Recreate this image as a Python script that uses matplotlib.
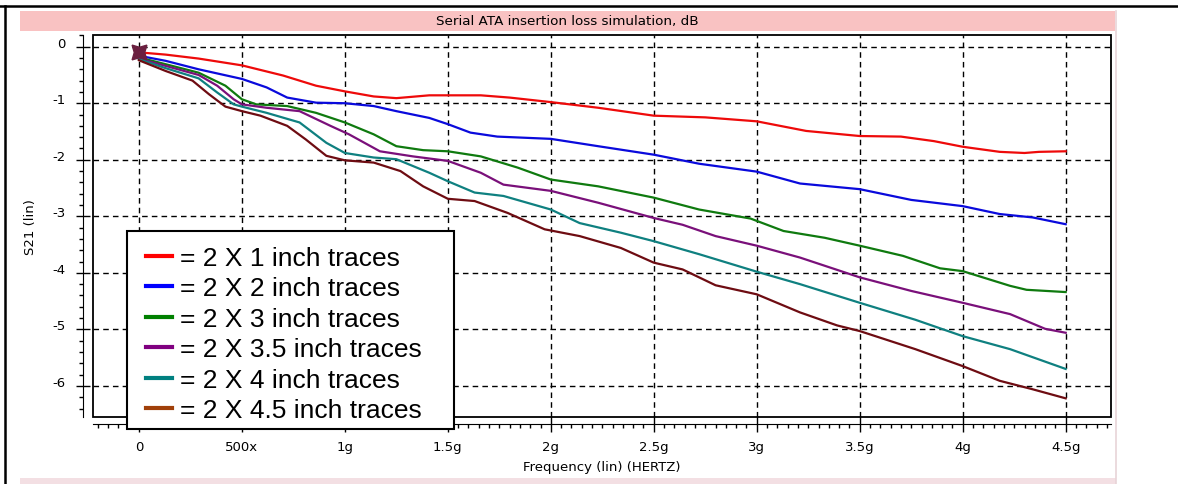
import matplotlib.pyplot as plt
from matplotlib.patches import Rectangle
from matplotlib.lines import Line2D
from matplotlib.ticker import MultipleLocator

# values (frequency in GHz, S21 in dB)
freq_1in = [0, 0.13, 0.29, 0.5, 0.7, 0.86, 1.0, 1.14, 1.25, 1.41, 1.66, 1.8, 2.0, 2.23, 2.5,
            2.75, 3.0, 3.24, 3.5, 3.7, 3.86, 4.0, 4.18, 4.3, 4.37, 4.5]
s21_1in = [-0.10, -0.14, -0.21, -0.33, -0.51, -0.69, -0.79, -0.88, -0.91, -0.86, -0.86, -0.90,
           -0.98, -1.08, -1.22, -1.25, -1.32, -1.49, -1.58, -1.59, -1.67, -1.77, -1.86, -1.88,
           -1.86, -1.85]

freq_2in = [0, 0.13, 0.29, 0.5, 0.62, 0.72, 0.86, 1.0, 1.14, 1.25, 1.41, 1.5, 1.61, 1.74, 2.0,
            2.23, 2.5, 2.72, 3.0, 3.21, 3.5, 3.75, 4.0, 4.18, 4.34, 4.5]
s21_2in = [-0.16, -0.25, -0.40, -0.57, -0.72, -0.90, -0.99, -1.0, -1.05, -1.14, -1.26, -1.37,
           -1.52, -1.59, -1.63, -1.76, -1.91, -2.07, -2.21, -2.42, -2.52, -2.71, -2.82, -2.96,
           -3.02, -3.14]

freq_3in = [0, 0.13, 0.29, 0.42, 0.5, 0.57, 0.72, 0.86, 1.0, 1.14, 1.25, 1.38, 1.5, 1.66, 1.84,
            2.0, 2.23, 2.5, 2.72, 2.97, 3.13, 3.33, 3.5, 3.71, 3.89, 4.0, 4.23, 4.31, 4.5]
s21_3in = [-0.19, -0.31, -0.46, -0.69, -0.93, -1.02, -1.05, -1.17, -1.34, -1.55, -1.76, -1.83,
           -1.85, -1.94, -2.14, -2.35, -2.47, -2.67, -2.88, -3.04, -3.26, -3.38, -3.52, -3.70,
           -3.92, -3.97, -4.23, -4.30, -4.34]

freq_35in = [0, 0.13, 0.29, 0.38, 0.46, 0.5, 0.62, 0.78, 0.93, 1.02, 1.17, 1.33, 1.5, 1.66,
             1.77, 2.0, 2.23, 2.5, 2.64, 2.8, 3.0, 3.21, 3.5, 3.75, 4.0, 4.23, 4.4, 4.5]
s21_35in = [-0.21, -0.34, -0.50, -0.69, -0.93, -1.02, -1.08, -1.14, -1.40, -1.55, -1.85, -1.94,
            -2.02, -2.23, -2.44, -2.55, -2.76, -3.03, -3.15, -3.35, -3.52, -3.73, -4.08, -4.32,
            -4.53, -4.73, -4.99, -5.06]

freq_4in = [0, 0.13, 0.29, 0.38, 0.46, 0.5, 0.62, 0.78, 0.91, 1.0, 1.14, 1.25, 1.41, 1.5, 1.63,
            1.77, 2.0, 2.14, 2.34, 2.5, 2.72, 3.0, 3.21, 3.5, 3.77, 4.0, 4.23, 4.5]
s21_4in = [-0.22, -0.38, -0.56, -0.81, -1.02, -1.06, -1.17, -1.34, -1.70, -1.88, -1.96, -1.99,
           -2.23, -2.38, -2.58, -2.64, -2.88, -3.12, -3.29, -3.44, -3.67, -3.98, -4.20, -4.53,
           -4.83, -5.12, -5.35, -5.70]

freq_45in = [0, 0.13, 0.26, 0.34, 0.42, 0.5, 0.59, 0.72, 0.81, 0.91, 1.0, 1.14, 1.27, 1.38, 1.5,
             1.63, 1.79, 1.97, 2.14, 2.34, 2.5, 2.64, 2.8, 3.0, 3.21, 3.39, 3.5, 3.77, 4.0,
             4.18, 4.34, 4.5]
s21_45in = [-0.24, -0.43, -0.60, -0.84, -1.06, -1.14, -1.22, -1.40, -1.64, -1.93, -2.01, -2.05,
            -2.20, -2.47, -2.69, -2.73, -2.94, -3.23, -3.35, -3.56, -3.82, -3.94, -4.22, -4.38,
            -4.70, -4.93, -5.03, -5.35, -5.65, -5.91, -6.06, -6.22]

trace_labels = ['= 2 X 1 inch traces', '= 2 X 2 inch traces', '= 2 X 3 inch traces',
                '= 2 X 3.5 inch traces', '= 2 X 4 inch traces', '= 2 X 4.5 inch traces']
trace_colors = ['#ee0a0a', '#0a0adc', '#0f7a0f', '#7a107a', '#0f8080', '#6e0c12']
legend_colors = ['#ff0000', '#0000ff', '#008000', '#800080', '#008080', '#a0400a']

xtick_pos = [0, 0.5, 1.0, 1.5, 2.0, 2.5, 3.0, 3.5, 4.0, 4.5]
xtick_labels = ['0', '500x', '1g', '1.5g', '2g', '2.5g', '3g', '3.5g', '4g', '4.5g']
ytick_pos = [0, -1, -2, -3, -4, -5, -6]

marker_freq = [0.0]
marker_s21 = [-0.10]

W, H = 1178, 485


def fx(px):
    return px / W


def fy(py):
    return 1 - py / H


fig = plt.figure(figsize=(W / 100, H / 100), dpi=100)
small_font = {'family': 'DejaVu Sans', 'size': 9.5}

# page frame: black lines at top and left, pink title band, pale panel edges
fig.add_artist(Line2D([0, 1], [fy(7), fy(7)], color='black', lw=1.8))
fig.add_artist(Line2D([fx(5), fx(5)], [fy(7), 0], color='black', lw=1.8))
fig.add_artist(Rectangle((fx(20), fy(32)), fx(1115) - fx(20), fy(12) - fy(32),
                         facecolor='#f9c2c2', edgecolor='none'))
fig.add_artist(Line2D([fx(1116), fx(1116)], [fy(12), 0], color='#e8d4d8', lw=1.2))
fig.add_artist(Rectangle((fx(20), 0), fx(1116) - fx(20), fy(479),
                         facecolor='#f3dfe3', edgecolor='none'))
fig.text(fx(567), fy(22), 'Serial ATA insertion loss simulation, dB',
         ha='center', va='center', fontdict={'family': 'DejaVu Sans', 'size': 9.7})

ax = fig.add_axes([fx(93), fy(418), fx(1111) - fx(93), fy(36) - fy(418)])
traces = zip([freq_1in, freq_2in, freq_3in, freq_35in, freq_4in, freq_45in],
             [s21_1in, s21_2in, s21_3in, s21_35in, s21_4in, s21_45in],
             trace_colors, trace_labels)
for freq, s21, color, label in traces:
    ax.plot(freq, s21, color=color, lw=1.6, label=label, zorder=3)
ax.plot(marker_freq, marker_s21, linestyle='none', marker=(4, 1, 45), markersize=15,
        color='#6a2040', zorder=4)

ax.set_xlim(-0.223, 4.72)
ax.set_ylim(-6.55, 0.207)

# axis lines are offset from the plot box, the box is drawn separately
ax.spines['bottom'].set_position(('outward', 5))
ax.spines['left'].set_position(('outward', 7))
for side in ['top', 'right']:
    ax.spines[side].set_visible(False)
ax.add_patch(Rectangle((0, 0), 1, 1, transform=ax.transAxes, fill=False,
                       edgecolor='black', lw=1.3, clip_on=False, zorder=2))

ax.set_xticks(xtick_pos)
ax.set_xticklabels(xtick_labels, fontdict=small_font)
ax.set_yticks(ytick_pos)
ax.set_yticklabels([str(v) for v in ytick_pos], fontdict=small_font, va='baseline')
ax.xaxis.set_minor_locator(MultipleLocator(0.05))
ax.yaxis.set_minor_locator(MultipleLocator(0.2))
ax.tick_params(axis='x', which='major', direction='inout', length=11, width=1, pad=6)
ax.tick_params(axis='x', which='minor', direction='out', length=3, width=1)
ax.tick_params(axis='y', which='major', direction='inout', length=9.5, width=1, pad=8)
ax.tick_params(axis='y', which='minor', direction='out', length=3, width=1)
ax.grid(True, which='major', color='black', linestyle=(0, (4, 3)), lw=1, zorder=1)

ax.set_xlabel('Frequency (lin) (HERTZ)', fontdict=small_font)
ax.xaxis.set_label_coords(0.5, -0.113)
ax.set_ylabel('S21 (lin)', fontdict=small_font)
ax.yaxis.set_label_coords(-0.055, 0.5)

# legend frame drawn by hand, it is wider on the right than the entries need
fig.add_artist(Rectangle((fx(127), fy(430)), fx(454) - fx(127), fy(232) - fy(430),
                         facecolor='white', edgecolor='black', lw=1.5, zorder=5))
handles, labels = ax.get_legend_handles_labels()
leg = fig.legend(handles, labels, loc='upper left', bbox_to_anchor=(fx(146), fy(247)),
                 prop={'family': 'Liberation Sans', 'size': 19}, frameon=False,
                 handlelength=1.0, handletextpad=0.3, labelspacing=0.245,
                 borderpad=0, borderaxespad=0)
leg.set_zorder(6)
for line, color in zip(leg.get_lines(), legend_colors):
    line.set_color(color)
    line.set_linewidth(3)

plt.savefig('out.png', dpi=100)
plt.close()
